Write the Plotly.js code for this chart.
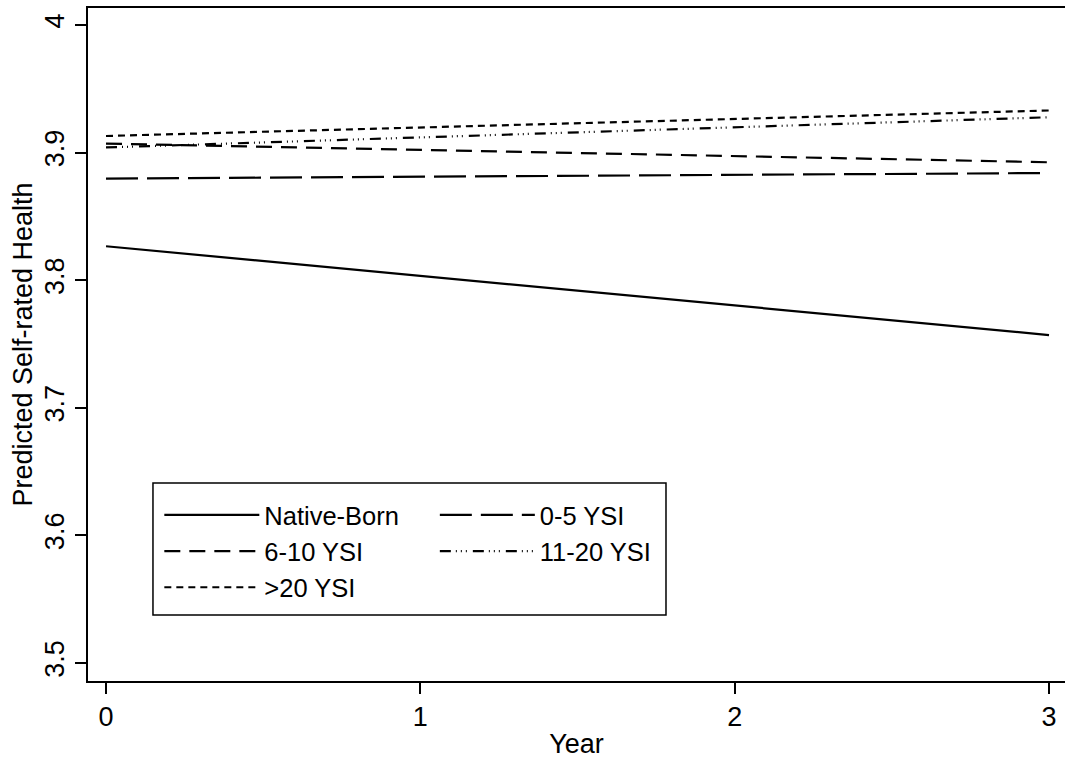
<!DOCTYPE html>
<html>
<head>
<meta charset="utf-8">
<script src="https://cdn.plot.ly/plotly-3.0.1.min.js"></script>
<style>html,body{margin:0;padding:0;background:#fff;}#chart{width:1065px;height:759px;}</style>
</head>
<body>
<div id="chart"></div>
<script>
// Data
var years = [0, 3];
var seriesNames = ["Native-Born", "0-5 YSI", "6-10 YSI", "11-20 YSI", ">20 YSI"];
var nativeBorn = [3.8266, 3.757];
var ysi0to5 = [3.8796, 3.884];
var ysi6to10 = [3.907, 3.8924];
var ysi11to20 = [3.904, 3.9277];
var ysiOver20 = [3.913, 3.933];
var yTicks = [3.5, 3.6, 3.7, 3.8, 3.9, 4];
var yTickLabels = ["3.5", "3.6", "3.7", "3.8", "3.9", "4"];
var xTicks = [0, 1, 2, 3];

var dashes = ["solid", "32px,9px", "16px,9px", "11px,5px,1px,4px,1px,4px,1px,6px", "7px,5px"];
var legends = ["legend", "legend2", "legend", "legend2", "legend"];
var values = [nativeBorn, ysi0to5, ysi6to10, ysi11to20, ysiOver20];

var traces = values.map(function (v, i) {
  return {
    x: years, y: v, type: "scatter", mode: "lines", name: seriesNames[i],
    line: {color: "#000", width: 2.2, dash: dashes[i]},
    legend: legends[i], hoverinfo: "skip"
  };
});

var fontFam = "Liberation Sans, Arial, Helvetica, sans-serif";
var legendCommon = {
  orientation: "v", bgcolor: "rgba(0,0,0,0)", borderwidth: 0,
  font: {family: fontFam, size: 25.5, color: "#000"},
  itemwidth: 95, xanchor: "left", yanchor: "top", tracegroupgap: 0,
  itemclick: false, itemdoubleclick: false
};

var layout = {
  width: 1065, height: 759,
  margin: {l: 88, r: 0, t: 8, b: 78},
  paper_bgcolor: "#fff", plot_bgcolor: "#fff",
  font: {family: fontFam, size: 27, color: "#000"},
  showlegend: true,
  xaxis: {
    range: [-0.0573, 3.0509], tickvals: xTicks, ticktext: xTicks.map(String),
    showgrid: false, zeroline: false, showline: true, linecolor: "#000", linewidth: 2,
    mirror: true, ticks: "outside", ticklen: 11, tickwidth: 2, tickcolor: "#000",
    tickfont: {size: 27}, title: {text: "Year", font: {size: 27}, standoff: 3}
  },
  yaxis: {
    range: [3.4859, 4.0133], tickvals: yTicks, ticktext: yTickLabels, tickangle: -90,
    showgrid: false, zeroline: false, showline: true, linecolor: "#000", linewidth: 2,
    ticks: "outside", ticklen: 11, tickwidth: 2, tickcolor: "#000",
    tickfont: {size: 27}, title: {text: "Predicted Self-rated Health", font: {size: 27}, standoff: 0}
  },
  legend: Object.assign({}, legendCommon, {x: 0.073, y: 0.281}),
  legend2: Object.assign({}, legendCommon, {x: 0.355, y: 0.281}),
  shapes: [{
    type: "rect", xref: "paper", yref: "paper",
    x0: 0.0665, x1: 0.5916, y0: 0.0981, y1: 0.2942,
    line: {color: "#000", width: 1.5}, fillcolor: "rgba(0,0,0,0)"
  }]
};

Plotly.newPlot("chart", traces, layout, {staticPlot: true, displayModeBar: false});
</script>
</body>
</html>
